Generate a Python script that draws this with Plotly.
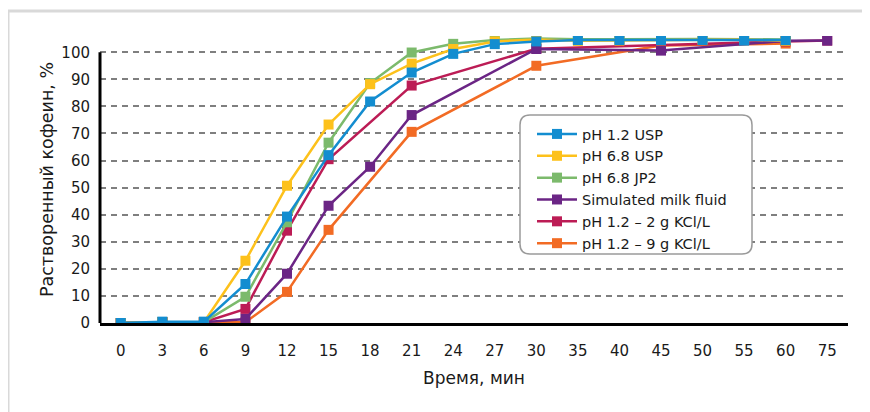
import plotly.graph_objects as go

# ---------------- data ----------------
time_labels = ["0", "3", "6", "9", "12", "15", "18", "21", "24", "27", "30",
               "35", "40", "45", "50", "55", "60", "75"]

ph12_usp_x = ["0", "3", "6", "9", "12", "15", "18", "21", "24", "27", "30",
              "35", "40", "45", "50", "55", "60"]
ph12_usp_y = [0, 0.5, 0.5, 14.4, 39.3, 62.0, 81.8, 92.5, 99.4, 103.0, 104.0,
              104.5, 104.5, 104.5, 104.5, 104.3, 104.5]

ph68_usp_x = ph12_usp_x
ph68_usp_y = [0, 0.3, 0.3, 23.0, 50.7, 73.3, 88.2, 95.8, 101.2, 104.0, 104.7,
              104.2, 104.3, 104.4, 104.6, 104.7, 104.2]

ph68_jp2_x = ph12_usp_x
ph68_jp2_y = [0, 0.3, 0.3, 9.7, 37.2, 66.6, 88.6, 99.9, 103.1, 104.5, 105.1,
              104.8, 104.8, 104.9, 104.9, 104.8, 104.7]

milk_x = ["0", "3", "6", "9", "12", "15", "18", "21", "30", "45", "60", "75"]
milk_y = [0, 0.3, 0.3, 1.5, 18.2, 43.3, 57.7, 76.8, 101.2, 100.6, 104.2, 104.3]

kcl2_x = ["0", "3", "6", "9", "12", "15", "21", "30", "60", "75"]
kcl2_y = [0, 0.3, 0.3, 5.2, 34.1, 60.5, 87.7, 101.3, 104.0, 104.3]

kcl9_x = ["0", "3", "6", "9", "12", "15", "21", "30", "45", "60"]
kcl9_y = [0, 0.3, 0.3, 0.3, 11.5, 34.4, 70.6, 95.0, 102.5, 103.2]

y_ticks = [0, 10, 20, 30, 40, 50, 60, 70, 80, 90, 100]

# (name, x, y, color, legend rank) -- listed in drawing order
series = [
    ("pH 1.2 – 9 g KCl/L", kcl9_x, kcl9_y, "#f26b24", 6),
    ("pH 1.2 – 2 g KCl/L", kcl2_x, kcl2_y, "#bc1c55", 5),
    ("Simulated milk fluid", milk_x, milk_y, "#6b2585", 4),
    ("pH 6.8 JP2", ph68_jp2_x, ph68_jp2_y, "#7cba6c", 3),
    ("pH 6.8 USP", ph68_usp_x, ph68_usp_y, "#fdc11b", 2),
    ("pH 1.2 USP", ph12_usp_x, ph12_usp_y, "#138dd0", 1),
]

FONT = "DejaVu Sans"

fig = go.Figure()
for name, xs, ys, col, rank in series:
    fig.add_trace(go.Scatter(
        x=xs, y=ys, name=name, mode="lines+markers",
        line=dict(color=col, width=2.5),
        marker=dict(symbol="square", size=10, color=col),
        legendrank=rank,
    ))

# page has an 8px body margin, so figure is 862x404 placed at (8, 8)
OFF = 8
W, H = 862, 404
ML, MR, MT, MB = 92, 22, 28, 89
pw, ph = W - ML - MR, H - MT - MB


def px_x(p):  # screen px -> paper x
    return (p - OFF - ML) / pw


def px_y(p):  # screen px -> paper y
    return (H - MB - (p - OFF)) / ph


# rounded legend frame
lx0, lx1, ly0, ly1 = px_x(520), px_x(752), px_y(115), px_y(254)
rx, ry = 10 / pw, 10 / ph
path = (f"M {lx0 + rx} {ly0} L {lx1 - rx} {ly0} Q {lx1} {ly0} {lx1} {ly0 - ry} "
        f"L {lx1} {ly1 + ry} Q {lx1} {ly1} {lx1 - rx} {ly1} "
        f"L {lx0 + rx} {ly1} Q {lx0} {ly1} {lx0} {ly1 + ry} "
        f"L {lx0} {ly0 - ry} Q {lx0} {ly0} {lx0 + rx} {ly0} Z")

shapes = [
    dict(type="path", xref="paper", yref="paper", path=path,
         line=dict(color="#9a9a9a", width=1.5), fillcolor="white", layer="above"),
    # y axis line (0..100)
    dict(type="line", xref="paper", yref="y", x0=0, x1=0, y0=0, y1=100,
         line=dict(color="black", width=3), layer="above"),
    # outer light frame
    dict(type="line", xref="paper", yref="paper", x0=px_x(8), x1=px_x(8),
         y0=px_y(430), y1=px_y(11), line=dict(color="#d9d9d9", width=3)),
    dict(type="line", xref="paper", yref="paper", x0=px_x(8), x1=px_x(900),
         y0=px_y(11), y1=px_y(11), line=dict(color="#d9d9d9", width=3)),
]

fig.update_layout(
    width=W, height=H,
    margin=dict(l=ML, r=MR, t=MT, b=MB),
    paper_bgcolor="white", plot_bgcolor="white",
    font=dict(family=FONT, size=15, color="#1a1a1a"),
    showlegend=True,
    legend=dict(
        x=px_x(532), y=px_y(118), xanchor="left", yanchor="top",
        bgcolor="rgba(0,0,0,0)", borderwidth=0,
        font=dict(family=FONT, size=14.5, color="#1a1a1a"),
        tracegroupgap=0, itemwidth=40,
    ),
    shapes=shapes,
    xaxis=dict(
        type="category", categoryorder="array", categoryarray=time_labels,
        tickvals=time_labels, ticktext=time_labels,
        range=[-0.5, len(time_labels) - 0.5],
        showgrid=False, zeroline=False,
        showline=True, linecolor="black", linewidth=3,
        ticks="", ticklabelstandoff=12,
        tickfont=dict(family=FONT, size=15),
        title=dict(text="Время, мин", font=dict(family=FONT, size=17), standoff=14),
    ),
    yaxis=dict(
        range=[0, 106], tickvals=y_ticks, ticktext=[str(v) for v in y_ticks],
        showgrid=True, gridcolor="#7f7f7f", gridwidth=1.5, griddash="6px,5px",
        zeroline=False, showline=False, ticks="", ticklabelstandoff=9,
        tickfont=dict(family=FONT, size=15),
        title=dict(text="Растворенный кофеин, %", font=dict(family=FONT, size=17.5),
                   standoff=3),
    ),
)

fig.write_html("out.html")
